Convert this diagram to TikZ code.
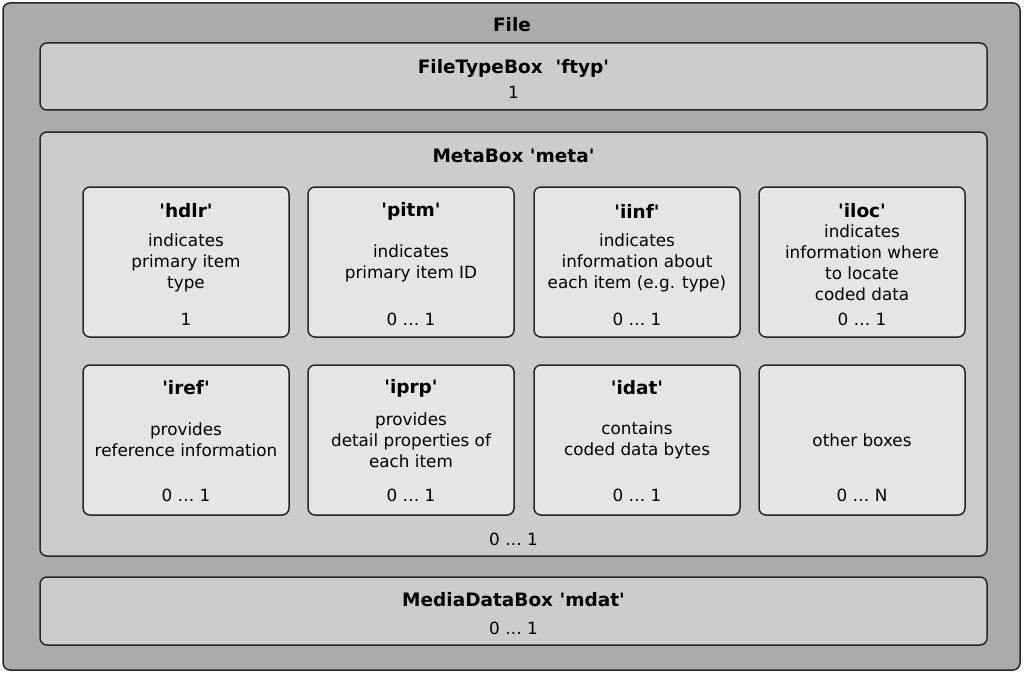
\documentclass[tikz,border=0pt]{standalone}
\usepackage{fontspec}
\setmainfont{DejaVu Sans}
\newcommand{\sq}{\textquotesingle}
\begin{document}
\begin{tikzpicture}[x=1pt,y=-1pt,
    every node/.style={font=\fontsize{16.8}{21}\selectfont,align=center,inner sep=0pt},
    frame/.style={draw=black!85,line width=1.5pt,rounded corners=7pt},
    filebox/.style={frame,fill=black!33,minimum width=1017pt,minimum height=667pt},
    levelbox/.style={frame,fill=black!20,minimum width=947pt},
    itembox/.style={frame,fill=black!10,minimum width=206pt,minimum height=150pt},
    title/.style={font=\fontsize{18.5}{21}\selectfont\bfseries}]
    \useasboundingbox (0,0) rectangle (1024,674);
    % outer file
    \node[filebox] (file) at (511.5,336.5) {};
    \node[title] (filet) at (512,25) {File};
    % ftyp
    \node[levelbox,minimum height=67pt] (ftyp) at (513.5,76.5) {};
    \node[title] (ftypt) at (513.5,68) {FileTypeBox\ \ \sq ftyp\sq};
    \node (ftypn) at (513.5,92) {1};
    % meta
    \node[levelbox,minimum height=424pt] (meta) at (513.5,344) {};
    \node[title] (metat) at (513.5,156) {MetaBox \sq meta\sq};
    \node (metan) at (513.5,539) {0 … 1};
    % first row
    \node[itembox] (hdlr) at (186,262) {};
    \node[title] (hdlrt) at (186,211) {\sq hdlr\sq};
    \node (hdlrd) at (186,263) {indicates\\primary item\\type};
    \node (hdlrn) at (186,319) {1};
    \node[itembox] (pitm) at (411,262) {};
    \node[title] (pitmt) at (411,211) {\sq pitm\sq};
    \node (pitmd) at (411,263) {indicates\\primary item ID};
    \node (pitmn) at (411,319) {0 … 1};
    \node[itembox] (iinf) at (637,262) {};
    \node[title] (iinft) at (637,211) {\sq iinf\sq};
    \node (iinfd) at (637,263) {indicates\\information about\\each item (e.g. type)};
    \node (iinfn) at (637,319) {0 … 1};
    \node[itembox] (iloc) at (862,262) {};
    \node[title] (iloct) at (862,211) {\sq iloc\sq};
    \node (ilocd) at (862,263) {indicates\\information where\\to locate\\coded data};
    \node (ilocn) at (862,319) {0 … 1};
    % second row
    \node[itembox] (iref) at (186,440) {};
    \node[title] (ireft) at (186,388) {\sq iref\sq};
    \node (irefd) at (186,440) {provides\\reference information};
    \node (irefn) at (186,495) {0 … 1};
    \node[itembox] (iprp) at (411,440) {};
    \node[title] (iprpt) at (411,388) {\sq iprp\sq};
    \node (iprpd) at (411,440) {provides\\detail properties of\\each item};
    \node (iprpn) at (411,495) {0 … 1};
    \node[itembox] (idat) at (637,440) {};
    \node[title] (idatt) at (637,388) {\sq idat\sq};
    \node (idatd) at (637,440) {contains\\coded data bytes};
    \node (idatn) at (637,495) {0 … 1};
    \node[itembox] (other) at (862,440) {};
    \node (otherd) at (862,440) {other boxes};
    \node (othern) at (862,495) {0 … N};
    % mdat
    \node[levelbox,minimum height=68pt] (mdat) at (513.5,611) {};
    \node[title] (mdatt) at (513.5,600) {MediaDataBox \sq mdat\sq};
    \node (mdatn) at (513.5,628) {0 … 1};
\end{tikzpicture}
\end{document}
